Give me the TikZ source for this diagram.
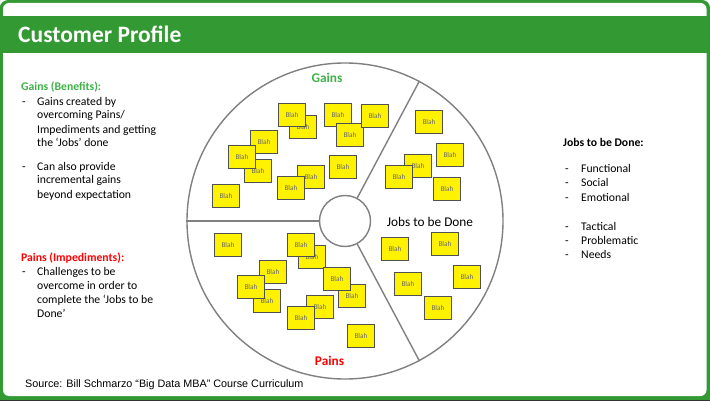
\documentclass[tikz,border=0pt]{standalone}
\usepackage{fontspec}
\setmainfont{Carlito}
\newfontfamily\arialf{Liberation Sans}
\definecolor{framegreen}{RGB}{51,153,51}
\definecolor{gaingreen}{RGB}{62,178,72}
\definecolor{linegray}{RGB}{128,128,128}
\definecolor{notegray}{RGB}{80,80,80}
\definecolor{blahgray}{RGB}{105,105,105}
\tikzset{
  note/.style={draw=notegray, fill=yellow, line width=1pt, minimum width=27.5pt, minimum height=22.5pt, inner sep=0pt, font=\fontsize{7.3}{8}\selectfont, text=blahgray},
  body/.style={inner sep=0pt, anchor=base west, font=\fontsize{11.7}{13.5}\selectfont},
  bodyb/.style={body, font=\fontsize{11.7}{13.5}\selectfont\bfseries},
  ring/.style={draw=linegray, line width=1.4pt, circle, inner sep=0pt},
  label/.style={inner sep=0pt, anchor=base, font=\fontsize{13.3}{15}\selectfont},
}
\begin{document}
\begin{tikzpicture}[x=1pt,y=-1pt]
\useasboundingbox (0,0) rectangle (710,401);
% frame
\fill[white] (0,0) rectangle (710,401);
\fill[framegreen] (0,8) -- (0,401) -- (710,401) -- (710,8) [rounded corners=8pt] -- (710,0) -- (0,0) -- cycle;
\fill[white, rounded corners=6pt] (3,3) rectangle (706.5,396);
\fill[framegreen] (0,16) rectangle (710,53);
\draw[black!80, line width=0.8pt] (0,400.6) -- (710,400.6);
\node[inner sep=0pt, anchor=base west, text=white, font=\fontsize{23.5}{26}\selectfont\bfseries] (title) at (18,43) {Customer Profile};
% circle
\node[ring, minimum size=316pt] (outer) at (345,221) {};
\node[ring, minimum size=51pt] (inner) at (345,221) {};
\draw[linegray, line width=1.4pt] (outer.west) -- (inner.west);
\draw[linegray, line width=1.4pt] (inner.62) -- (outer.62);
\draw[linegray, line width=1.4pt] (inner.-62) -- (outer.-62);
% notes
\foreach \n/\px/\py in {g2/303/127, g1/292/115, g3/338/115, g5/350/135, g4/375/116, g6/264/142, g8/258/171, g7/242/157, g9/311/177, g10/291/188, g11/343/167, g12/226/196,
  j1/429/122, j2/450/155, j3/418/166, j4/399/177, j5/447/189, j6/395/249, j7/445/244, j8/467/277, j9/408/284, j10/438/308,
  p2/312/257, p1/301/245, p3/228/245, p4/273/272, p6/267/301, p5/251/287, p8/352/296, p7/337/279, p9/320/307, p10/301/318, p11/361/336}
  \node[note] (\n) at (\px,\py) {Blah};
% circle labels
\node[label, text=gaingreen, font=\fontsize{13.3}{15}\selectfont\bfseries] (lgains) at (327,82.7) {Gains};
\node[label] (ljobs) at (430,226.5) {Jobs to be Done};
\node[label, text=red, font=\fontsize{13.3}{15}\selectfont\bfseries] (lpains) at (329.5,365.6) {Pains};
% left text
\node[bodyb, text=gaingreen] (gh) at (21,90.5) {Gains (Benefits):};
\node[body] (gd1) at (22,105.5) {-};
\node[body] (g1a) at (37,105.5) {Gains created by};
\node[body] (g1b) at (37,119) {overcoming Pains/};
\node[body] (g1c) at (37,133.5) {Impediments and getting};
\node[body] (g1d) at (37,147) {the ‘Jobs’ done};
\node[body] (gd2) at (22,170.5) {-};
\node[body] (g2a) at (37,170.5) {Can also provide};
\node[body] (g2b) at (37,184) {incremental gains};
\node[body] (g2c) at (37,198) {beyond expectation};
\node[bodyb, text=red] (ph) at (21,261.5) {Pains (Impediments):};
\node[body] (pd1) at (22,275.5) {-};
\node[body] (p1a) at (37,275.5) {Challenges to be};
\node[body] (p1b) at (37,289.5) {overcome in order to};
\node[body] (p1c) at (37,303.5) {complete the ‘Jobs to be};
\node[body] (p1d) at (37,317.5) {Done’};
% right text
\node[bodyb] (jh) at (563,147) {Jobs to be Done:};
\foreach \i/\yy/\t in {1/172.5/Functional, 2/187/Social, 3/201.5/Emotional, 4/230.5/Tactical, 5/244.5/Problematic, 6/258.5/Needs}{
  \node[body] (jd\i) at (565,\yy) {-};
  \node[body] (jt\i) at (581,\yy) {\t};
}
% source
\node[inner sep=0pt, anchor=base west, font=\arialf\fontsize{10.8}{12}\selectfont] (src) at (25,387.7) {Source: Bill Schmarzo “Big Data MBA” Course Curriculum};
\end{tikzpicture}
\end{document}
